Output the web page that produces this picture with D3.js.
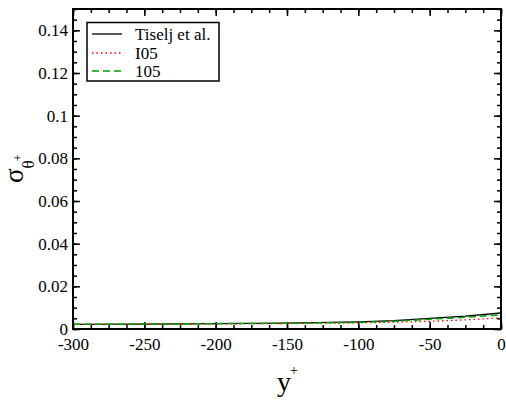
<!DOCTYPE html>
<html>
<head>
<meta charset="utf-8">
<script src="https://cdn.jsdelivr.net/npm/d3@7"></script>
<style>
  html, body { margin: 0; padding: 0; background: #fff; }
  svg { display: block; }
  svg text { font-family: "Liberation Serif", "Times New Roman", serif !important; fill: #000; }
</style>
</head>
<body>
<svg id="chart" width="506" height="401"></svg>
<script>
// Temperature fluctuation profiles, sigma_theta+ versus y+
const yPlus = [-300, -250, -200, -150, -100, -75, -50, -25, 0];
const tiselj = [0.0022, 0.0023, 0.0025, 0.0028, 0.0033, 0.0039, 0.0050, 0.0060, 0.0075];
const i05    = [0.0022, 0.0022, 0.0024, 0.0026, 0.0029, 0.0032, 0.0036, 0.0043, 0.0052];
const c105   = [0.0022, 0.0023, 0.0025, 0.0027, 0.0031, 0.0036, 0.0046, 0.0055, 0.0066];

const xTicks = [-300, -250, -200, -150, -100, -50, 0];
const xTickLabels = ["-300", "-250", "-200", "-150", "-100", "-50", "0"];
const yTicks = [0, 0.02, 0.04, 0.06, 0.08, 0.1, 0.12, 0.14];
const yTickLabels = ["0", "0.02", "0.04", "0.06", "0.08", "0.1", "0.12", "0.14"];

const seriesNames = ["Tiselj et al.", "I05", "105"];
const seriesData = [tiselj, i05, c105];
const seriesColors = ["#000000", "#ff0000", "#00a000"];
const seriesDash = [null, "1.5,3", "7,4"];
const seriesWidth = [1.3, 1.3, 1.5];

const svg = d3.select("#chart");
const L = 73, R = 501, T = 9, B = 329;

const x = d3.scaleLinear().domain([-300, 0]).range([L, R]);
const y = d3.scaleLinear().domain([0, 0.15]).range([B, T]);

const xMinor = d3.range(-300, 0.001, 12.5);
const yMinor = d3.range(0, 0.1501, 0.005);

// Inward tick marks on all four sides
function tickSet(axisGen, transform) {
  const g = svg.append("g").attr("transform", transform).call(axisGen);
  g.select(".domain").remove();
  g.selectAll("line").attr("stroke", "#000").attr("stroke-width", 1.5);
  g.selectAll("text").remove();
  return g;
}
tickSet(d3.axisBottom(x).tickValues(xMinor).tickSize(-4), `translate(0,${B})`);
tickSet(d3.axisBottom(x).tickValues(xTicks).tickSize(-7), `translate(0,${B})`);
tickSet(d3.axisTop(x).tickValues(xMinor).tickSize(-4), `translate(0,${T})`);
tickSet(d3.axisTop(x).tickValues(xTicks).tickSize(-7), `translate(0,${T})`);
tickSet(d3.axisLeft(y).tickValues(yMinor).tickSize(-4), `translate(${L},0)`);
tickSet(d3.axisLeft(y).tickValues(yTicks).tickSize(-7), `translate(${L},0)`);
tickSet(d3.axisRight(y).tickValues(yMinor).tickSize(-4), `translate(${R},0)`);
tickSet(d3.axisRight(y).tickValues(yTicks).tickSize(-7), `translate(${R},0)`);

// Tick labels
const xAxis = svg.append("g").attr("transform", `translate(0,${B})`)
  .call(d3.axisBottom(x).tickValues(xTicks).tickSize(0).tickPadding(9)
    .tickFormat((d, i) => xTickLabels[i]));
xAxis.attr("font-family", null).attr("font-size", null);
xAxis.select(".domain").remove();
xAxis.selectAll("text").style("font-size", "17px").style("font-family", "'Liberation Serif', serif");

const yAxis = svg.append("g").attr("transform", `translate(${L},0)`)
  .call(d3.axisLeft(y).tickValues(yTicks).tickSize(0).tickPadding(5)
    .tickFormat((d, i) => yTickLabels[i]));
yAxis.attr("font-family", null).attr("font-size", null);
yAxis.select(".domain").remove();
yAxis.selectAll("text").style("font-size", "17px").style("font-family", "'Liberation Serif', serif");

// Curves
const line = d3.line().x((d, i) => x(yPlus[i])).y(d => y(d));
seriesData.forEach((s, k) => {
  svg.append("path")
    .datum(s)
    .attr("d", line)
    .attr("fill", "none")
    .attr("stroke", seriesColors[k])
    .attr("stroke-width", seriesWidth[k])
    .attr("stroke-dasharray", seriesDash[k]);
});

// Frame
svg.append("rect")
  .attr("x", L).attr("y", T).attr("width", R - L).attr("height", B - T)
  .attr("fill", "none").attr("stroke", "#000").attr("stroke-width", 2);

// Legend
const lg = svg.append("g");
lg.append("rect").attr("x", 87).attr("y", 22.5).attr("width", 132).attr("height", 58.5)
  .attr("fill", "#fff").attr("stroke", "#000").attr("stroke-width", 1.5);
const rowY = [34, 53, 71];
seriesNames.forEach((name, k) => {
  lg.append("line")
    .attr("x1", 92).attr("x2", 122).attr("y1", rowY[k]).attr("y2", rowY[k])
    .attr("stroke", seriesColors[k]).attr("stroke-width", seriesWidth[k])
    .attr("stroke-dasharray", seriesDash[k]);
  lg.append("text").attr("x", 135).attr("y", rowY[k] + 6)
    .style("font-size", "17px").text(name);
});

// Axis titles
const xt = svg.append("text").attr("x", 277).attr("y", 391).style("font-size", "28px");
xt.append("tspan").text("y");
xt.append("tspan").style("font-size", "14px").attr("dy", -16).attr("dx", -1).text("+");

const yt = svg.append("text").attr("transform", "translate(23,183) rotate(-90)").style("font-size", "27px");
yt.append("tspan").text("σ");
yt.append("tspan").style("font-size", "17px").attr("dy", 11).text("θ");
yt.append("tspan").style("font-size", "12px").attr("dy", -12).attr("dx", -1).text("+");
</script>
</body>
</html>
